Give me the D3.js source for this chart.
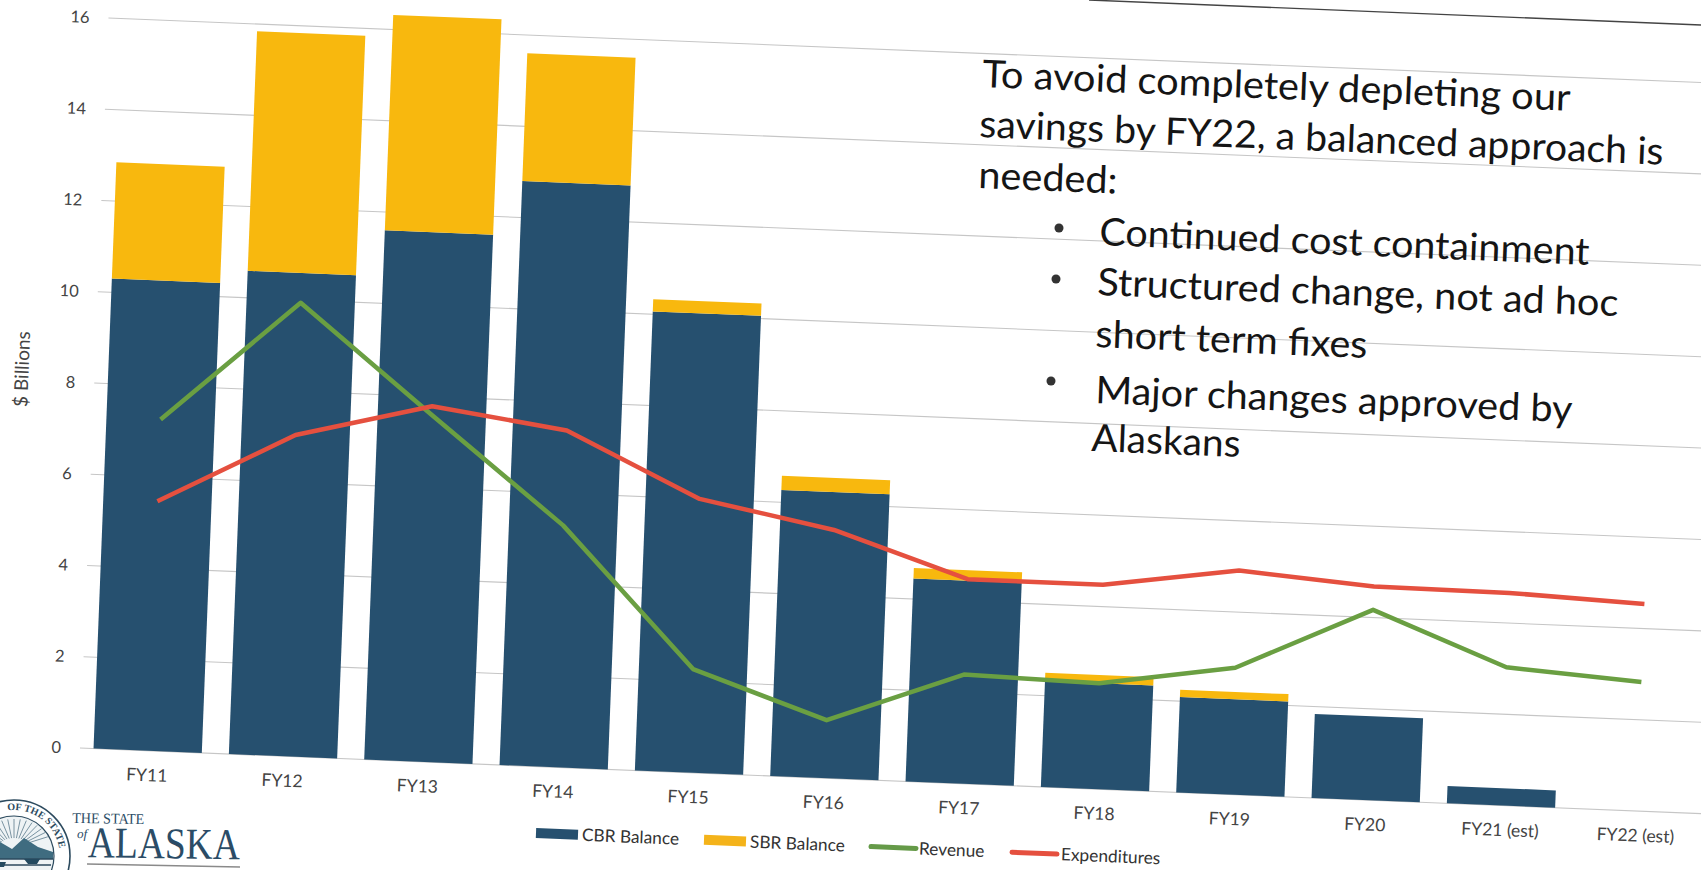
<!DOCTYPE html>
<html><head><meta charset="utf-8">
<script src="https://cdn.jsdelivr.net/npm/d3@7/dist/d3.min.js"></script>
<style>
html,body{margin:0;padding:0;background:#fff;overflow:hidden}
text{font-family:Lato,"Open Sans",sans-serif}
</style></head><body>
<svg id="c" width="1701" height="870"></svg>
<script>
const categories=["FY11","FY12","FY13","FY14","FY15","FY16","FY17","FY18","FY19","FY20","FY21 (est)","FY22 (est)"];
const cbrBalance=[10.3,10.59,11.6,12.8,10.06,6.27,4.45,2.32,2.09,1.84,0.38,0];
const sbrBalance=[2.55,5.25,4.72,2.8,0.27,0.31,0.23,0.18,0.16,0,0,0];
const revenue=[7.26,9.94,7.6,5.3,2.27,1.27,2.39,2.32,2.78,4.17,3.03,2.83];
const expenditures=[5.47,7.04,7.79,7.38,6.0,5.44,4.48,4.48,4.91,4.68,4.66,4.54];
const yTicks=[0,2,4,6,8,10,12,14,16];
const legendItems=[
 {name:"CBR Balance",kind:"bar",color:"#26506f",dx:0,tx:46},
 {name:"SBR Balance",kind:"bar",color:"#f4b31a",dx:168,tx:214},
 {name:"Revenue",kind:"line",color:"#659a48",dx:335,tx:383},
 {name:"Expenditures",kind:"line",color:"#e5503f",dx:476,tx:525}];
const noteLines=[
 {t:"To avoid completely depleting our",x:982,y:87,w:588},
 {t:"savings by FY22, a balanced approach is",x:979,y:137,w:684},
 {t:"needed:",x:978,y:188,w:139},
 {t:"Continued cost containment",x:1099,y:245,w:490},
 {t:"Structured change, not ad hoc",x:1097,y:295,w:521},
 {t:"short term fixes",x:1095,y:347,w:272},
 {t:"Major changes approved by",x:1095,y:403,w:477},
 {t:"Alaskans",x:1091,y:451,w:149}];
const noteBullets=[[1059,228],[1056,279],[1051,381]];

const skew=(x,y)=>`matrix(1,0.0405,-0.039,1,${x},${y})`;
const svg=d3.select("#c");
svg.append("rect").attr("width",1701).attr("height",870).attr("fill","#fff");
// page edge of the scan
svg.append("line").attr("x1",1089).attr("y1",0).attr("x2",1701).attr("y2",25)
  .attr("stroke","#444").attr("stroke-width",1.4);

const g=svg.append("g").attr("transform",skew(80,748));
const x=d3.scaleBand().domain(categories).range([0,1624]).paddingInner(0.2).paddingOuter(0.1);
const y=d3.scaleLinear().domain([0,16]).range([0,-730]);

g.append("g").selectAll("line").data(yTicks).join("line")
  .attr("x1",0).attr("x2",1660).attr("y1",d=>y(d)).attr("y2",d=>y(d))
  .attr("stroke","#c6c6c6").attr("stroke-width",1.1);

const yAxis=g.append("g").call(d3.axisLeft(y).tickValues(yTicks).tickSize(0).tickPadding(19));
yAxis.select(".domain").remove();
yAxis.selectAll("text").attr("font-size",16.5).attr("fill","#444").style("font-family","Lato");
const xAxis=g.append("g").call(d3.axisBottom(x).tickSize(0).tickPadding(18));
xAxis.select(".domain").remove();
xAxis.selectAll("text").attr("font-size",17.5).attr("fill","#444").style("font-family","Lato");

const rows=categories.map((c,i)=>({c,cbr:cbrBalance[i],sbr:sbrBalance[i]}));
const stack=d3.stack().keys(["cbr","sbr"])(rows);
const barColors={cbr:"#26506f",sbr:"#f8b80e"};
g.append("g").selectAll("g").data(stack).join("g").attr("fill",d=>barColors[d.key])
 .selectAll("rect").data(d=>d).join("rect")
  .attr("x",d=>x(d.data.c)).attr("width",x.bandwidth())
  .attr("y",d=>y(d[1])).attr("height",d=>y(d[0])-y(d[1]));

const line=d3.line().x((d,i)=>x(categories[i])+x.bandwidth()/2).y(d=>y(d));
g.append("path").attr("d",line(revenue)).attr("fill","none").attr("stroke","#6a9f42").attr("stroke-width",4.5).attr("stroke-linejoin","round");
g.append("path").attr("d",line(expenditures)).attr("fill","none").attr("stroke","#e5503f").attr("stroke-width",4.5).attr("stroke-linejoin","round");

g.append("text").attr("transform","translate(-66,-376) rotate(-90)").attr("text-anchor","middle")
  .attr("font-size",19).attr("fill","#444").text("$ Billions");

// legend
const lg=svg.append("g").attr("transform",skew(536,833));
legendItems.forEach(d=>{
  if(d.kind==="bar") lg.append("rect").attr("x",d.dx).attr("y",-5).attr("width",42).attr("height",10).attr("fill",d.color);
  else lg.append("line").attr("x1",d.dx).attr("x2",d.dx+45).attr("y1",0).attr("y2",0).attr("stroke",d.color).attr("stroke-width",5).attr("stroke-linecap","round");
  lg.append("text").attr("x",d.tx).attr("y",6).attr("font-size",17.3).attr("fill","#333").text(d.name);
});

// annotation
noteLines.forEach(d=>{
  svg.append("text").attr("transform",skew(d.x,d.y)).attr("font-size",38).attr("fill","#151515")
    .attr("textLength",d.w).attr("lengthAdjust","spacingAndGlyphs").text(d.t);
});
noteBullets.forEach(b=>svg.append("circle").attr("cx",b[0]).attr("cy",b[1]).attr("r",4.5).attr("fill","#333"));

// state seal and wordmark
const seal=svg.append("g").attr("transform","translate(14,856)");
seal.append("circle").attr("r",56).attr("fill","#fff").attr("stroke","#2c4a5e").attr("stroke-width",1.6);
seal.append("circle").attr("r",40).attr("fill","#eef3f5").attr("stroke","#2c4a5e").attr("stroke-width",1.2);
d3.range(-70,71,10).forEach(a=>{
  const r=a*Math.PI/180;
  seal.append("line").attr("x1",Math.sin(r)*14).attr("y1",-10-Math.cos(r)*8).attr("x2",Math.sin(r)*36).attr("y2",-10-Math.cos(r)*27)
    .attr("stroke","#5b7a8c").attr("stroke-width",.8);
});
seal.append("path").attr("d","M-34,-2 L-14,-14 L-2,-7 L10,-18 L24,-9 L39,-4 L39,3 L-34,3 Z").attr("fill","#3f6c80");
seal.append("path").attr("d","M-34,3 H39 M-32,9 H37 M-28,15 H34").attr("stroke","#2c4a5e").attr("stroke-width",1.5).attr("fill","none");
seal.append("path").attr("d","M10,3 h16 l-3,5 h-9 Z M-24,6 h16 l-2,5 h-12 Z").attr("fill","#23495f");
const arcR=46, a0=-8*Math.PI/180, a1=78*Math.PI/180;
seal.append("defs").append("path").attr("id","sealArc")
  .attr("d",`M${arcR*Math.sin(a0)},${-arcR*Math.cos(a0)} A${arcR},${arcR} 0 0 1 ${arcR*Math.sin(a1)},${-arcR*Math.cos(a1)}`);
seal.append("text").attr("font-size",10).attr("font-weight",700).attr("fill","#2c4a5e").style("font-family","'Liberation Serif'")
  .append("textPath").attr("href","#sealArc").text("OF THE STATE");

const word=svg.append("g").attr("transform","rotate(0.8 72 840)").attr("fill","#2b4c66");
const serif="'Liberation Serif',serif";
word.append("text").attr("x",72).attr("y",823).attr("font-size",15).style("font-family",serif).attr("textLength",72).attr("lengthAdjust","spacingAndGlyphs").text("THE STATE");
word.append("text").attr("x",77).attr("y",838).attr("font-size",13).attr("font-style","italic").style("font-family",serif).text("of");
word.append("text").attr("x",88).attr("y",857).attr("font-size",44).style("font-family",serif).attr("textLength",152).attr("lengthAdjust","spacingAndGlyphs").text("ALASKA");
svg.append("line").attr("x1",87).attr("y1",864).attr("x2",240).attr("y2",867).attr("stroke","#8a8a8a").attr("stroke-width",1.4);
</script>
</body></html>
